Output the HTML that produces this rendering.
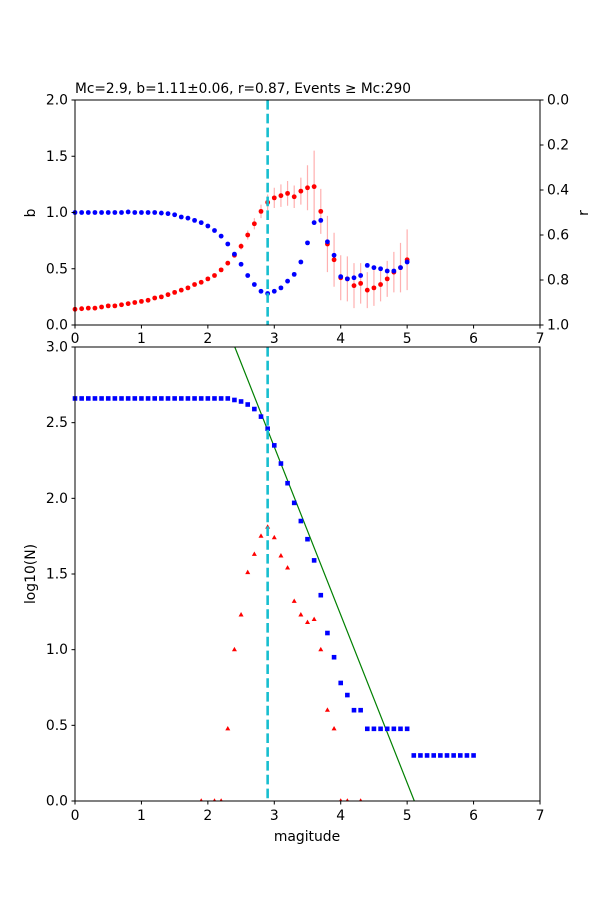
<!DOCTYPE html>
<html><head><meta charset="utf-8"><style>
body{margin:0;background:#fff}
svg text{font-family:"DejaVu Sans","Liberation Sans",sans-serif;font-size:13.9px;fill:#000}
</style></head><body>
<svg id="s" width="600" height="900" xmlns="http://www.w3.org/2000/svg">
<rect width="600" height="900" fill="#fff"/>
<g id="g"></g>
<text x="75" y="93" textLength="336" lengthAdjust="spacingAndGlyphs">Mc=2.9, b=1.11±0.06, r=0.87, Events ≥ Mc:290</text>
<text transform="translate(35,213) rotate(-90)" text-anchor="middle">b</text>
<text transform="translate(588,213) rotate(-90)" text-anchor="middle">r</text>
<text transform="translate(35,574) rotate(-90)" text-anchor="middle">log10(N)</text>
<text x="307" y="841" text-anchor="middle">magitude</text>
</svg>
<script>
const g=document.getElementById('g');let h='';
const X=m=>75+m*465/7;
const Yt=b=>325-b*112.5;
const Yb=v=>801-v*454/3;
const red=[0.14,0.145,0.15,0.15,0.16,0.17,0.17,0.18,0.19,0.2,0.21,0.22,0.24,0.25,0.27,0.29,0.31,0.33,0.36,0.38,0.41,0.44,0.49,0.55,0.62,0.7,0.8,0.9,1.01,1.09,1.13,1.15,1.17,1.14,1.19,1.22,1.23,1.01,0.72,0.58,0.42,0.41,0.35,0.37,0.31,0.33,0.36,0.41,0.47,0.51,0.58];
const err=[0,0,0,0,0,0,0,0,0,0,0,0,0,0,0,0,0,0,0,0,0,0,0,0,0.02,0.03,0.04,0.05,0.06,0.07,0.09,0.1,0.11,0.1,0.12,0.2,0.32,0.2,0.25,0.24,0.2,0.2,0.2,0.18,0.16,0.16,0.15,0.16,0.18,0.22,0.27];
const blue=[1,1,1,1,1,1,1,1,1.005,1,1,1,1,0.995,0.99,0.98,0.96,0.95,0.93,0.91,0.88,0.84,0.79,0.72,0.63,0.54,0.44,0.36,0.3,0.28,0.3,0.33,0.39,0.45,0.56,0.73,0.91,0.93,0.74,0.62,0.43,0.41,0.42,0.44,0.53,0.51,0.5,0.48,0.48,0.51,0.56];
for(let i=0;i<red.length;i++){const m=i/10;if(err[i]>0)h+=`<line x1="${X(m)}" x2="${X(m)}" y1="${Yt(red[i]+err[i])}" y2="${Yt(red[i]-err[i])}" stroke="#ffb0b0" stroke-width="1.2"/>`;}
for(let i=0;i<red.length;i++)h+=`<circle cx="${X(i/10)}" cy="${Yt(red[i])}" r="2.4" fill="#f00"/>`;
for(let i=0;i<blue.length;i++)h+=`<circle cx="${X(i/10)}" cy="${Yt(blue[i])}" r="2.4" fill="#00f"/>`;
const cum=[];for(let i=0;i<=60;i++){let v;
const tbl={24:2.65,25:2.64,26:2.62,27:2.59,28:2.54,29:2.46,30:2.35,31:2.23,32:2.1,33:1.97,34:1.85,35:1.73,36:1.59,37:1.36,38:1.11,39:0.95,40:0.78,41:0.7,42:0.6,43:0.6};
if(i<24)v=2.66;else if(tbl[i]!==undefined)v=tbl[i];else if(i<=50)v=0.477;else v=0.301;cum.push(v);}
h+=`<defs><clipPath id="cb"><rect x="75" y="347" width="465" height="454"/></clipPath></defs>`;
h+=`<line x1="${X(5.67/1.11-3/1.11)}" y1="${Yb(3)}" x2="${X(5.67/1.11)}" y2="${Yb(0)}" stroke="#008000" stroke-width="1.2" clip-path="url(#cb)"/>`;
cum.forEach((v,i)=>h+=`<rect x="${X(i/10)-2.3}" y="${Yb(v)-2.3}" width="4.6" height="4.6" fill="#00f"/>`);
const tri={19:0,21:0,22:0,23:0.477,24:1.0,25:1.23,26:1.51,27:1.63,28:1.75,29:1.81,30:1.74,31:1.62,32:1.54,33:1.32,34:1.23,35:1.18,36:1.2,37:1.0,38:0.6,39:0.477,40:0,41:0,43:0};
for(const k in tri){const x=X(k/10),y=Yb(tri[k]);h+=`<polygon points="${x},${y-2.8} ${x-2.5},${y+1.6} ${x+2.5},${y+1.6}" fill="#f00" clip-path="url(#cb)"/>`;}
h+=`<line x1="${X(2.9)}" x2="${X(2.9)}" y1="100" y2="325" stroke="#17becf" stroke-width="2.6" stroke-dasharray="9.6,4.2"/>`;
h+=`<line x1="${X(2.9)}" x2="${X(2.9)}" y1="347" y2="801" stroke="#17becf" stroke-width="2.6" stroke-dasharray="9.6,4.2"/>`;
h+=`<rect x="75" y="100" width="465" height="225" fill="none" stroke="#000" stroke-width="1"/>`;
h+=`<rect x="75" y="347" width="465" height="454" fill="none" stroke="#000" stroke-width="1"/>`;
for(let m=0;m<=7;m++){const x=X(m);
h+=`<line x1="${x}" x2="${x}" y1="325" y2="328.5" stroke="#000"/><text x="${x}" y="343" text-anchor="middle">${m}</text>`;
h+=`<line x1="${x}" x2="${x}" y1="801" y2="804.5" stroke="#000"/><text x="${x}" y="820" text-anchor="middle">${m}</text>`;}
for(let k=0;k<=4;k++){const b=k*0.5,y=Yt(b);h+=`<line x1="71.5" x2="75" y1="${y}" y2="${y}" stroke="#000"/><text x="68" y="${y+4.5}" text-anchor="end">${b.toFixed(1)}</text>`;}
for(let k=0;k<=5;k++){const r=k*0.2,y=100+225*r;h+=`<line x1="540" x2="543.5" y1="${y}" y2="${y}" stroke="#000"/><text x="547" y="${y+4.5}">${r.toFixed(1)}</text>`;}
for(let k=0;k<=6;k++){const v=k*0.5,y=Yb(v);h+=`<line x1="71.5" x2="75" y1="${y}" y2="${y}" stroke="#000"/><text x="68" y="${y+4.5}" text-anchor="end">${v.toFixed(1)}</text>`;}
g.innerHTML=h;
</script>
</body></html>
